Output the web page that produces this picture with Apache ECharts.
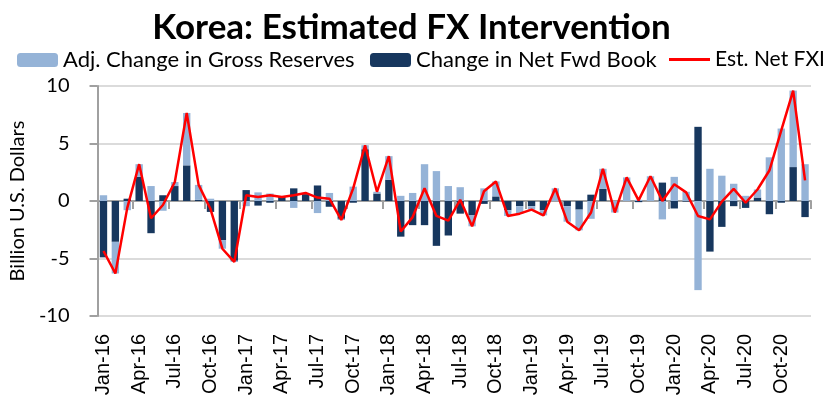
<!DOCTYPE html>
<html>
<head>
<meta charset="utf-8">
<script src="https://cdn.jsdelivr.net/npm/echarts@6/dist/echarts.min.js"></script>
<style>
  html, body { margin: 0; padding: 0; background: #fff; }
  #chart { width: 823px; height: 402px; }
</style>
</head>
<body>
<div id="chart"></div>
<script>
// monthly categories Jan-16 .. Dec-20
var years = ['16', '17', '18', '19', '20'];
var monthNames = ['Jan', 'Feb', 'Mar', 'Apr', 'May', 'Jun', 'Jul', 'Aug', 'Sep', 'Oct', 'Nov', 'Dec'];
var months = [];
years.forEach(function (y) {
  monthNames.forEach(function (m) { months.push(m + '-' + y); });
});

// Change in Net Fwd Book (billion USD)
var fwdBook = [
  -4.9, -3.55, 0.2, 2.1, -2.8, 0.5, 1.3, 3.1, 0.1, -0.95, -3.4, -5.2,
  0.95, -0.4, -0.15, 0.35, 1.1, 0.6, 1.35, -0.5, -1.55, -0.15, 4.5, 0.65,
  1.85, -3.1, -2.1, -2.1, -3.9, -3.0, -1.1, -1.25, -0.25, 0.4, -0.8, -0.45,
  -0.45, -0.8, 0, -0.45, -0.75, 0.55, 1.05, 0, 0, -0.1, 0, 1.6,
  -0.65, -0.05, 6.45, -4.4, -2.25, -0.45, -0.6, 0.3, -1.15, -0.15, 2.95, -1.4
];

// Adj. Change in Gross Reserves (billion USD)
var grossRes = [
  0.5, -2.75, -0.8, 1.1, 1.3, -0.85, 0.35, 4.55, 1.3, 0.2, -0.75, -0.1,
  -0.45, 0.75, 0.65, 0, -0.6, 0.1, -1.05, 0.7, -0.1, 1.25, 0.35, 0.15,
  2.05, 0.45, 0.7, 3.2, 2.6, 1.3, 1.2, -0.95, 1.1, 1.3, -0.5, -0.65,
  -0.3, -0.45, 1.1, -1.35, -1.8, -1.55, 1.75, -1.0, 2.05, 0.1, 2.15, -1.6,
  2.1, 0.8, -7.75, 2.8, 2.2, 1.5, 0.45, 0.7, 3.8, 6.3, 6.65, 3.2
];

// Est. Net FXI (billion USD)
var netFxi = [
  -4.35, -6.3, -0.6, 3.2, -1.5, -0.35, 1.65, 7.65, 1.4, -0.7, -4.15, -5.3,
  0.5, 0.35, 0.5, 0.35, 0.5, 0.7, 0.3, 0.2, -1.65, 1.1, 4.85, 0.8,
  3.9, -2.65, -1.4, 1.1, -1.3, -1.7, 0.1, -2.2, 0.85, 1.7, -1.3, -1.1,
  -0.75, -1.25, 1.1, -1.8, -2.55, -1.0, 2.8, -1.0, 2.05, 0.05, 2.15, 0.0,
  1.45, 0.75, -1.3, -1.6, -0.05, 1.05, -0.15, 1.0, 2.65, 6.15, 9.6, 1.8
];

var NAME_RES = 'Adj. Change in Gross Reserves';
var NAME_FWD = 'Change in Net Fwd Book';
var NAME_FXI = 'Est. Net FXI';

var chart = echarts.init(document.getElementById('chart'));

var legendText = { fontFamily: 'Lato', fontSize: 22, color: '#000' };

var option = {
  animation: false,
  title: {
    text: 'Korea: Estimated FX Intervention',
    left: 'center',
    top: 5,
    textStyle: { fontFamily: 'Lato', fontWeight: 'bold', fontSize: 35, color: '#000' }
  },
  legend: [
    { data: [NAME_RES], left: 12, top: 44, itemWidth: 41, itemHeight: 14, textStyle: legendText },
    { data: [NAME_FWD], left: 365, top: 44, itemWidth: 41, itemHeight: 14, textStyle: legendText },
    { data: [NAME_FXI], left: 664, top: 44, itemWidth: 41, itemHeight: 3, icon: 'rect',
      textStyle: { fontFamily: 'Lato', fontSize: 21, color: '#000' } }
  ],
  grid: { left: 92, right: 12, top: 86, bottom: 86 },
  xAxis: [
    {
      type: 'category',
      data: months,
      axisLine: { onZero: true, lineStyle: { color: '#A0A0A0', width: 2 } },
      axisTick: { show: true, interval: 2, length: 8, lineStyle: { color: '#A0A0A0', width: 2 } },
      axisLabel: { show: false },
      splitLine: { show: false }
    },
    {
      type: 'category',
      data: months,
      position: 'bottom',
      axisLine: { show: false, onZero: false },
      axisTick: { show: false },
      axisLabel: {
        interval: 2,
        rotate: 90,
        margin: 18,
        fontFamily: 'Liberation Sans',
        fontSize: 20,
        color: '#000'
      }
    }
  ],
  yAxis: {
    type: 'value',
    min: -10,
    max: 10,
    interval: 5,
    name: 'Billion U.S. Dollars',
    nameLocation: 'middle',
    nameRotate: 90,
    nameGap: 58,
    nameTextStyle: { fontFamily: 'Lato', fontSize: 20, color: '#000' },
    axisLine: { show: true, lineStyle: { color: '#A0A0A0', width: 2 } },
    axisTick: { show: true, length: 8, lineStyle: { color: '#A0A0A0', width: 2 } },
    axisLabel: { margin: 28, fontFamily: 'Lato', fontSize: 20, color: '#000' },
    splitLine: { lineStyle: { color: '#CFCFCF', width: 1.5 } }
  },
  series: [
    {
      name: NAME_FWD,
      type: 'bar',
      stack: 'fx',
      barWidth: '62%',
      itemStyle: { color: '#17375E' },
      data: fwdBook
    },
    {
      name: NAME_RES,
      type: 'bar',
      stack: 'fx',
      barWidth: '62%',
      itemStyle: { color: '#95B3D7' },
      data: grossRes
    },
    {
      name: NAME_FXI,
      type: 'line',
      symbol: 'none',
      z: 5,
      lineStyle: { color: '#FF0000', width: 2.5 },
      itemStyle: { color: '#FF0000' },
      data: netFxi
    }
  ]
};

chart.setOption(option);
</script>
</body>
</html>
